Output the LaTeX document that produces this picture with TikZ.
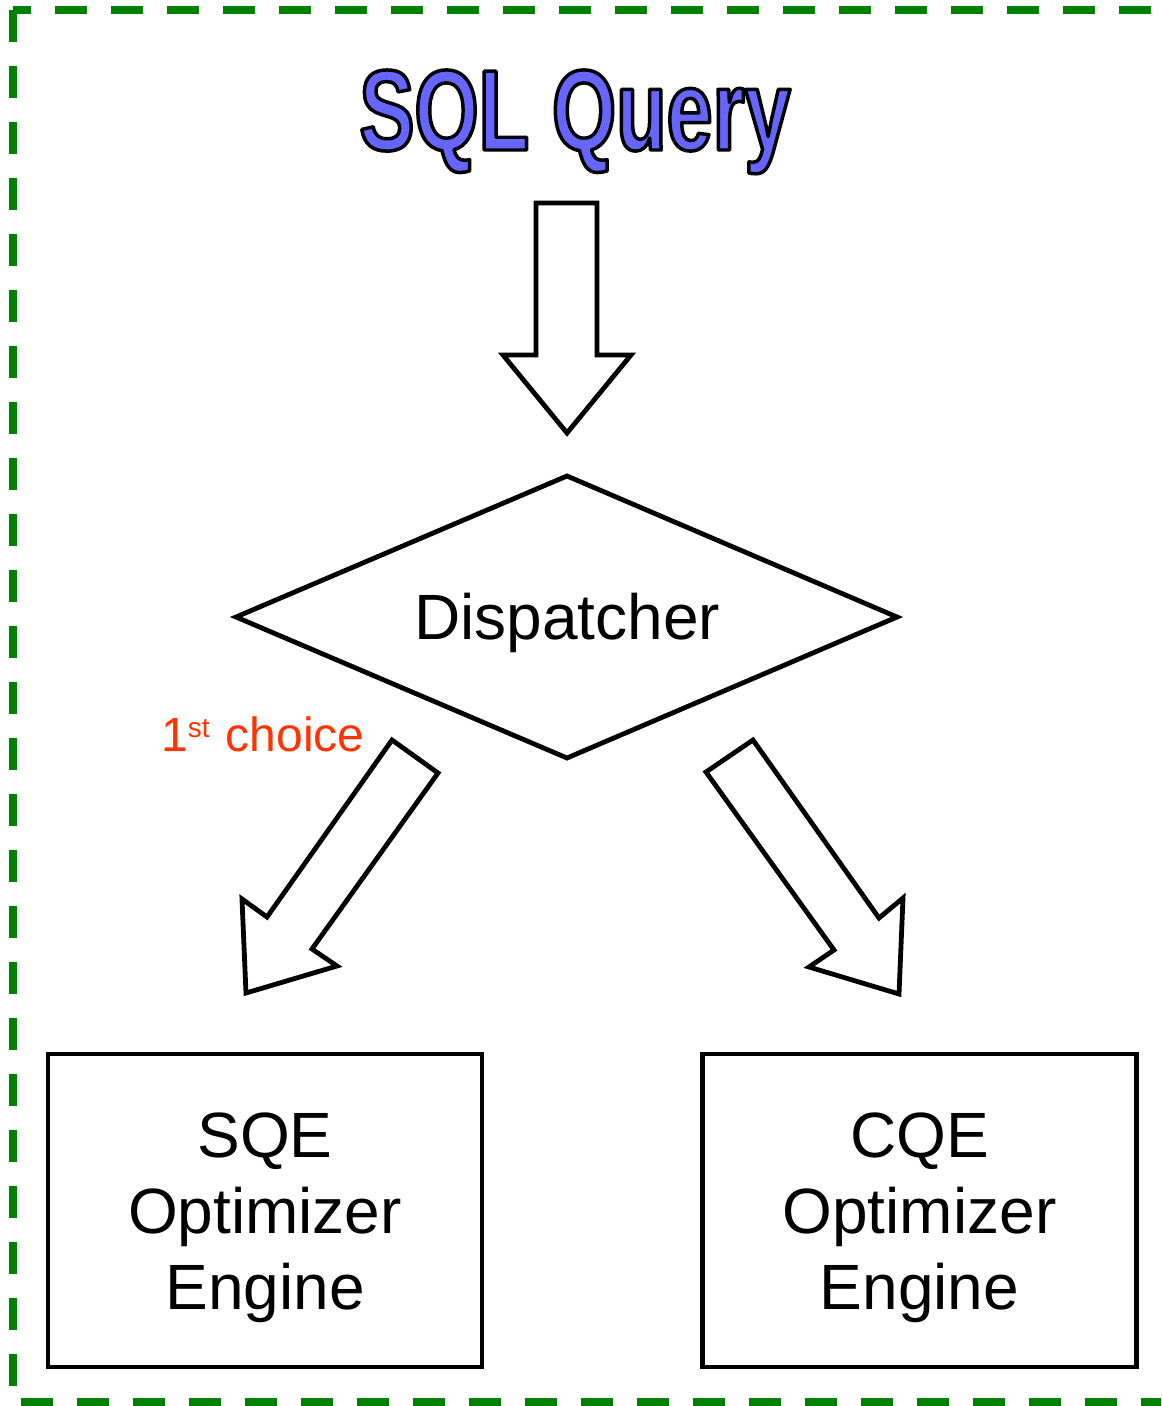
\documentclass[tikz,border=0pt]{standalone}
\usepackage{fontspec}
\setmainfont{Liberation Sans}
\newfontfamily\titlefont[FakeStretch=0.72]{Liberation Sans}
\definecolor{framegreen}{RGB}{0,128,0}
\definecolor{titleblue}{RGB}{102,102,255}
\definecolor{choicered}{RGB}{255,51,0}

% filled glyphs with a black stroke round them (PDF text render mode 2)
\newcommand\strokedtext[1]{%
  \special{pdf:literal direct 0 0 0 RG 2.6 w 1 j 2 Tr}#1%
  \special{pdf:literal direct 0 Tr 0.4 w}}

\tikzset{
  frame/.style={draw=framegreen, line width=6pt, dash pattern=on 24pt off 18pt},
  outline/.style={draw=black, line width=3.6pt, line join=miter, fill=white},
  engine/.style={draw=black, line width=3.5pt, minimum width=325.5pt, minimum height=234.75pt, inner sep=0pt},
  bodytext/.style={font=\fontsize{48}{57}\selectfont, align=center, inner sep=0pt},
  titletext/.style={font=\titlefont\bfseries\fontsize{86}{90}\selectfont, text=titleblue, inner sep=0pt},
  choicetext/.style={font=\fontsize{36}{40}\selectfont, text=choicered, inner sep=0pt},
}

\begin{document}
\begin{tikzpicture}[x=0.75pt, y=-0.75pt]
  \useasboundingbox (0,0) rectangle (1161,1406);
  \clip (0,0) rectangle (1161,1406);

  % dashed enclosure
  \draw[frame] (13,10) rectangle (1178,1402);

  % heading
  \node[titletext, anchor=base] (title) at (575,150) {\strokedtext{SQL Query}};

  % incoming block arrow
  \draw[outline] (536,203) -- (597,203) -- (597,355) -- (631,355) -- (567,433)
                 -- (503,355) -- (536,355) -- cycle;

  % dispatcher decision
  \coordinate (dw) at (236,617);
  \coordinate (dn) at (567,476);
  \coordinate (de) at (897,617);
  \coordinate (ds) at (567,758);
  \draw[outline] (dw) -- (dn) -- (de) -- (ds) -- cycle;
  \node[bodytext] (dispatcher) at (567,623) {Dispatcher};

  % branch arrows
  \draw[outline] (392,740) -- (438,773) -- (312,949) -- (337,966) -- (246,993)
                 -- (242,899) -- (267,917) -- cycle;
  \draw[outline] (753,740) -- (879,918) -- (903,898) -- (899,994) -- (809,967)
                 -- (834,950) -- (706,772) -- cycle;

  \node[choicetext, anchor=base west] (choice) at (161,751)
    {1\raisebox{10pt}{\fontsize{21}{21}\selectfont st}\hspace{2pt} choice};

  % optimizer engines
  \node[engine] (sqe) at (265,1210.5) {};
  \node[bodytext] (sqetext) at (265,1218) {SQE\\Optimizer\\Engine};
  \node[engine] (cqe) at (919.5,1210.5) {};
  \node[bodytext] (cqetext) at (919.5,1218) {CQE\\Optimizer\\Engine};
\end{tikzpicture}
\end{document}
